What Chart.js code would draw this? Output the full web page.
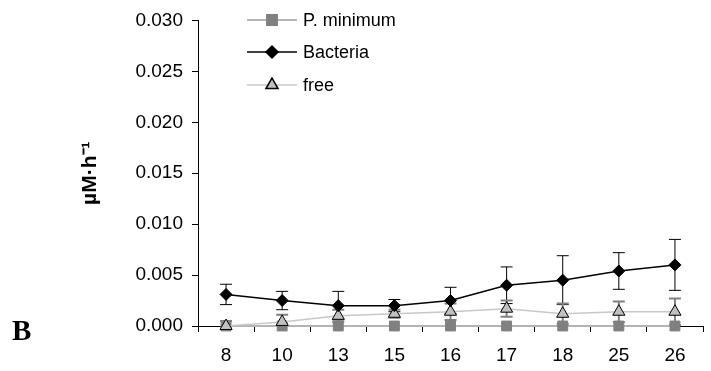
<!DOCTYPE html>
<html>
<head>
<meta charset="utf-8">
<script src="https://cdn.jsdelivr.net/npm/chart.js@4.4.1/dist/chart.umd.min.js"></script>
<style>
  html, body { margin: 0; padding: 0; background: #fff; }
  #wrap { width: 711px; height: 371px; }
</style>
</head>
<body>
<div id="wrap"><canvas id="chart" width="711" height="371"></canvas></div>
<script>
// datos
const days = ['8', '10', '13', '15', '16', '17', '18', '25', '26'];
const pMinimum = [0, 0, 0, 0, 0, 0, 0, 0, 0];
const bacteria = [0.0031, 0.0025, 0.0020, 0.0020, 0.0025, 0.0040, 0.0045, 0.0054, 0.0060];
const bacteriaErr = [0.0010, 0.0009, 0.0014, 0.0006, 0.0013, 0.0018, 0.0024, 0.0018, 0.0025];
const free = [0.0000, 0.0004, 0.0010, 0.0012, 0.0014, 0.0017, 0.0012, 0.0014, 0.0014];
const freeErr = [0.0005, 0.0007, 0.0006, 0.0004, 0.0008, 0.0008, 0.0010, 0.0010, 0.0013];
const yTicks = [0, 0.005, 0.010, 0.015, 0.020, 0.025, 0.030];

Chart.defaults.font.family = "'Liberation Sans', Arial, sans-serif";
Chart.defaults.color = '#000';

// barras de error, debajo de las lineas
const errorBars = {
  id: 'errorBars',
  beforeDatasetsDraw(chart) {
    const ctx = chart.ctx;
    const y = chart.scales.y;
    const area = chart.chartArea;
    ctx.save();
    ctx.beginPath();
    ctx.rect(area.left, area.top - 5, area.right - area.left, area.bottom - area.top + 5);
    ctx.clip();
    chart.data.datasets.forEach((ds, i) => {
      if (!ds.errors) return;
      const meta = chart.getDatasetMeta(i);
      ctx.strokeStyle = ds.errorColor;
      ctx.lineWidth = ds.errorWidth;
      meta.data.forEach((pt, j) => {
        const v = ds.data[j], e = ds.errors[j];
        const top = y.getPixelForValue(v + e);
        const bot = y.getPixelForValue(v - e);
        ctx.beginPath();
        ctx.moveTo(pt.x, top); ctx.lineTo(pt.x, bot);
        ctx.moveTo(pt.x - 6, top); ctx.lineTo(pt.x + 6, top);
        ctx.moveTo(pt.x - 6, bot); ctx.lineTo(pt.x + 6, bot);
        ctx.stroke();
      });
    });
    ctx.restore();
  }
};

// leyenda y letra del panel
const extras = {
  id: 'extras',
  afterDraw(chart) {
    const ctx = chart.ctx;
    const rows = [20, 52, 85];
    ctx.save();
    chart.data.datasets.forEach((ds, k) => {
      const yy = rows[k];
      ctx.strokeStyle = ds.borderColor;
      ctx.lineWidth = ds.borderWidth;
      ctx.beginPath();
      ctx.moveTo(247, yy); ctx.lineTo(297, yy);
      ctx.stroke();
      ctx.fillStyle = ds.pointBackgroundColor;
      ctx.strokeStyle = ds.pointBorderColor;
      Chart.helpers.drawPoint(ctx, {
        pointStyle: ds.pointStyle, radius: ds.pointRadius, rotation: 0, borderWidth: ds.pointBorderWidth
      }, 272, yy);
      ctx.fillStyle = '#000';
      ctx.font = "18px 'Liberation Sans', Arial, sans-serif";
      ctx.textBaseline = 'middle';
      ctx.fillText(ds.label, 303, yy + 1);
    });
    ctx.font = "bold 29px 'Liberation Serif', 'Times New Roman', serif";
    ctx.textBaseline = 'alphabetic';
    ctx.fillText('B', 12, 340);
    ctx.restore();
  }
};

new Chart(document.getElementById('chart'), {
  type: 'line',
  data: {
    labels: days,
    datasets: [
      {
        label: 'P. minimum',
        data: pMinimum,
        borderColor: '#b4b4b4',
        borderWidth: 2,
        pointStyle: 'rect',
        pointRadius: 7,
        pointBackgroundColor: '#808080',
        pointBorderColor: '#808080',
        pointBorderWidth: 1,
        clip: false,
        order: 2
      },
      {
        label: 'Bacteria',
        data: bacteria,
        errors: bacteriaErr,
        errorColor: '#000',
        errorWidth: 1,
        borderColor: '#000',
        borderWidth: 1.5,
        pointStyle: 'rectRot',
        pointRadius: 6,
        pointBackgroundColor: '#000',
        pointBorderColor: '#000',
        pointBorderWidth: 1,
        clip: false,
        order: 0
      },
      {
        label: 'free',
        data: free,
        errors: freeErr,
        errorColor: '#808080',
        errorWidth: 2,
        borderColor: '#c8c8c8',
        borderWidth: 1.5,
        pointStyle: 'triangle',
        pointRadius: 7,
        pointBackgroundColor: '#c0c0c0',
        pointBorderColor: '#000',
        pointBorderWidth: 1,
        clip: false,
        order: 1
      }
    ]
  },
  options: {
    responsive: false,
    animation: false,
    devicePixelRatio: 1,
    layout: { padding: { top: 18, left: 0, right: 0, bottom: 0 } },
    plugins: { legend: { display: false }, tooltip: { enabled: false } },
    elements: { line: { tension: 0 } },
    scales: {
      x: {
        offset: true,
        grid: { offset: true, drawOnChartArea: false, tickLength: 6, tickColor: '#000' },
        border: { color: '#000', width: 1 },
        ticks: { font: { size: 19 }, padding: 12, maxRotation: 0 },
        afterFit: s => { s.height = 45; }
      },
      y: {
        min: 0,
        max: 0.03,
        afterBuildTicks: s => { s.ticks = yTicks.map(v => ({ value: v })); },
        grid: { drawOnChartArea: false, tickLength: 6, tickColor: '#000' },
        border: { color: '#000', width: 1 },
        ticks: { font: { size: 19 }, padding: 9, callback: v => v.toFixed(3) },
        title: {
          display: true,
          text: 'µM·h⁻¹',
          font: { size: 21, weight: 'bold' },
          padding: { top: 78, bottom: 0 }
        },
        afterFit: s => { s.width = 198; }
      }
    }
  },
  plugins: [errorBars, extras]
});
</script>
</body>
</html>
